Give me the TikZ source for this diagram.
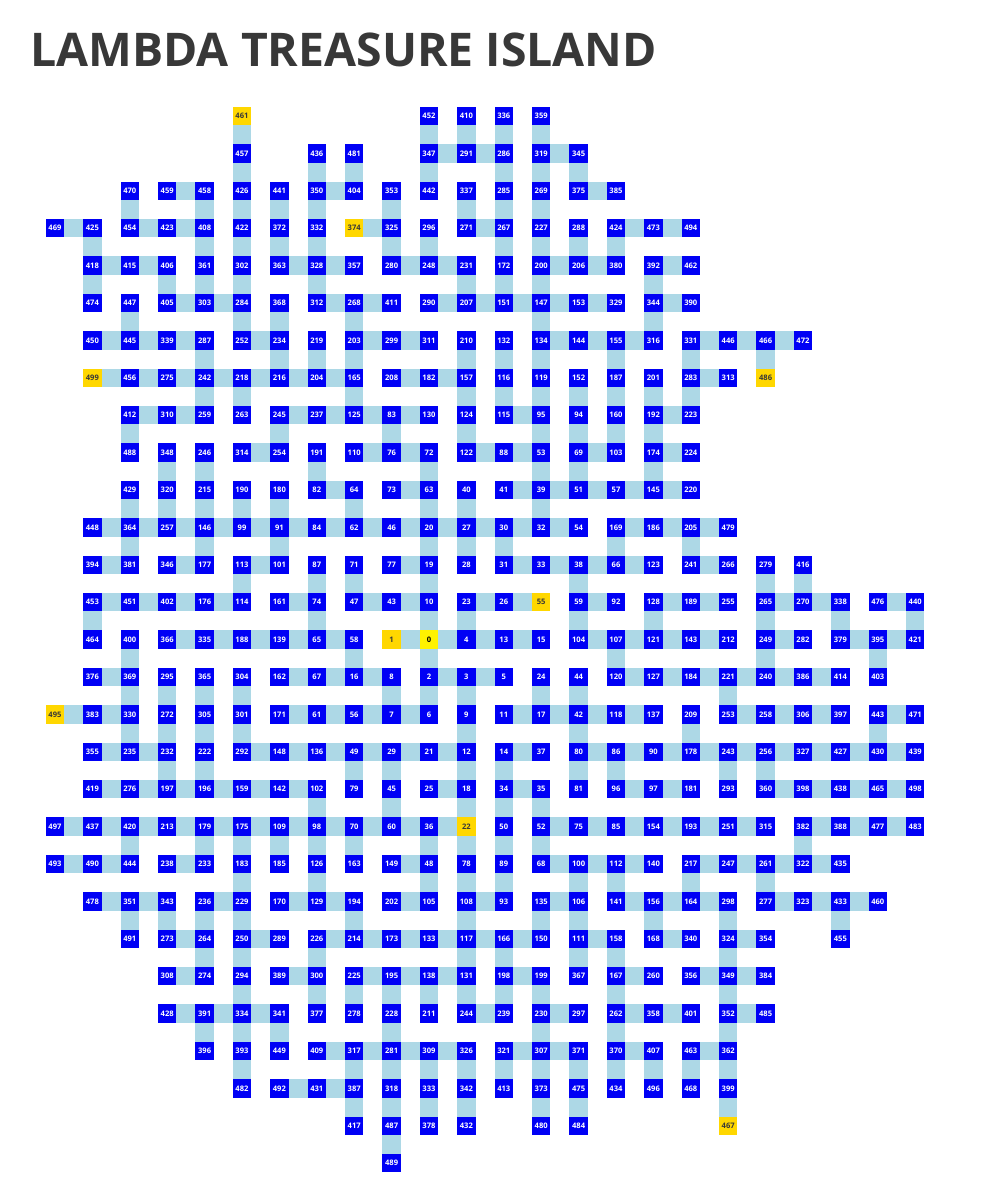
\documentclass[tikz,border=0pt]{standalone}
\usepackage{fontspec}
\setmainfont{Open Sans}
\definecolor{roomblue}{RGB}{0,0,245}
\definecolor{pathblue}{RGB}{173,216,230}
\definecolor{shrinegold}{RGB}{255,215,0}
\definecolor{titlegray}{RGB}{56,56,56}
\tikzset{
  room/.style={rectangle, minimum size=9.2pt, inner sep=0pt, outer sep=0pt,
    fill=roomblue, text=white, font=\fontsize{3.8}{4}\selectfont\bfseries},
  shrine/.style={room, fill=shrinegold, text=titlegray},
  origin/.style={room, fill=yellow, text=black},
  passage/.style={pathblue, line width=9.2pt}
}
\begin{document}
\begin{tikzpicture}[x=18.7pt, y=18.7pt]
    \useasboundingbox (-1.4706,3.1016) rectangle (25.267,-28.877);

    \node[anchor=west, inner sep=0pt, text=titlegray, font=\fontsize{23.2}{24}\selectfont\bfseries]
        (title) at (-0.668,1.76) {LAMBDA TREASURE ISLAND};

    \foreach \r/\rooms in {
        0/{10/452,11/410,12/336,13/359},
        1/{5/457,7/436,8/481,10/347,11/291,12/286,13/319,14/345},
        2/{2/470,3/459,4/458,5/426,6/441,7/350,8/404,9/353,10/442,11/337,12/285,13/269,14/375,15/385},
        3/{0/469,1/425,2/454,3/423,4/408,5/422,6/372,7/332,9/325,10/296,11/271,12/267,13/227,14/288,15/424,16/473,17/494},
        4/{1/418,2/415,3/406,4/361,5/302,6/363,7/328,8/357,9/280,10/248,11/231,12/172,13/200,14/206,15/380,16/392,17/462},
        5/{1/474,2/447,3/405,4/303,5/284,6/368,7/312,8/268,9/411,10/290,11/207,12/151,13/147,14/153,15/329,16/344,17/390},
        6/{1/450,2/445,3/339,4/287,5/252,6/234,7/219,8/203,9/299,10/311,11/210,12/132,13/134,14/144,15/155,16/316,17/331,18/446,19/466,20/472},
        7/{2/456,3/275,4/242,5/218,6/216,7/204,8/165,9/208,10/182,11/157,12/116,13/119,14/152,15/187,16/201,17/283,18/313},
        8/{2/412,3/310,4/259,5/263,6/245,7/237,8/125,9/83,10/130,11/124,12/115,13/95,14/94,15/160,16/192,17/223},
        9/{2/488,3/348,4/246,5/314,6/254,7/191,8/110,9/76,10/72,11/122,12/88,13/53,14/69,15/103,16/174,17/224},
        10/{2/429,3/320,4/215,5/190,6/180,7/82,8/64,9/73,10/63,11/40,12/41,13/39,14/51,15/57,16/145,17/220},
        11/{1/448,2/364,3/257,4/146,5/99,6/91,7/84,8/62,9/46,10/20,11/27,12/30,13/32,14/54,15/169,16/186,17/205,18/479},
        12/{1/394,2/381,3/346,4/177,5/113,6/101,7/87,8/71,9/77,10/19,11/28,12/31,13/33,14/38,15/66,16/123,17/241,18/266,19/279,20/416},
        13/{1/453,2/451,3/402,4/176,5/114,6/161,7/74,8/47,9/43,10/10,11/23,12/26,14/59,15/92,16/128,17/189,18/255,19/265,20/270,21/338,22/476,23/440},
        14/{1/464,2/400,3/366,4/335,5/188,6/139,7/65,8/58,11/4,12/13,13/15,14/104,15/107,16/121,17/143,18/212,19/249,20/282,21/379,22/395,23/421},
        15/{1/376,2/369,3/295,4/365,5/304,6/162,7/67,8/16,9/8,10/2,11/3,12/5,13/24,14/44,15/120,16/127,17/184,18/221,19/240,20/386,21/414,22/403},
        16/{1/383,2/330,3/272,4/305,5/301,6/171,7/61,8/56,9/7,10/6,11/9,12/11,13/17,14/42,15/118,16/137,17/209,18/253,19/258,20/306,21/397,22/443,23/471},
        17/{1/355,2/235,3/232,4/222,5/292,6/148,7/136,8/49,9/29,10/21,11/12,12/14,13/37,14/80,15/86,16/90,17/178,18/243,19/256,20/327,21/427,22/430,23/439},
        18/{1/419,2/276,3/197,4/196,5/159,6/142,7/102,8/79,9/45,10/25,11/18,12/34,13/35,14/81,15/96,16/97,17/181,18/293,19/360,20/398,21/438,22/465,23/498},
        19/{0/497,1/437,2/420,3/213,4/179,5/175,6/109,7/98,8/70,9/60,10/36,12/50,13/52,14/75,15/85,16/154,17/193,18/251,19/315,20/382,21/388,22/477,23/483},
        20/{0/493,1/490,2/444,3/238,4/233,5/183,6/185,7/126,8/163,9/149,10/48,11/78,12/89,13/68,14/100,15/112,16/140,17/217,18/247,19/261,20/322,21/435},
        21/{1/478,2/351,3/343,4/236,5/229,6/170,7/129,8/194,9/202,10/105,11/108,12/93,13/135,14/106,15/141,16/156,17/164,18/298,19/277,20/323,21/433,22/460},
        22/{2/491,3/273,4/264,5/250,6/289,7/226,8/214,9/173,10/133,11/117,12/166,13/150,14/111,15/158,16/168,17/340,18/324,19/354,21/455},
        23/{3/308,4/274,5/294,6/389,7/300,8/225,9/195,10/138,11/131,12/198,13/199,14/367,15/167,16/260,17/356,18/349,19/384},
        24/{3/428,4/391,5/334,6/341,7/377,8/278,9/228,10/211,11/244,12/239,13/230,14/297,15/262,16/358,17/401,18/352,19/485},
        25/{4/396,5/393,6/449,7/409,8/317,9/281,10/309,11/326,12/321,13/307,14/371,15/370,16/407,17/463,18/362},
        26/{5/482,6/492,7/431,8/387,9/318,10/333,11/342,12/413,13/373,14/475,15/434,16/496,17/468,18/399},
        27/{8/417,9/487,10/378,11/432,13/480,14/484},
        28/{9/489}}
        \foreach \c/\n in \rooms
            \node[room] (r\n) at (\c,-\r) {\n};

    \foreach \c/\r/\n in {5/0/461, 8/3/374, 1/7/499, 19/7/486, 13/13/55, 9/14/1,
        0/16/495, 11/19/22, 18/27/467}
        \node[shrine] (r\n) at (\c,-\r) {\n};
    \node[origin] (r0) at (10,-14) {0};

    \foreach \a/\b in {
        347/291,291/286,319/345, 459/458,350/404,375/385,
        469/425,454/423,423/408,374/325,271/267,424/473,473/494,
        418/415,415/406,363/328,328/357,280/248,248/231,200/206,206/380,392/462,
        405/303,303/284,312/268,268/411,290/207,207/151,151/147,147/153,153/329,344/390,
        450/445,445/339,339/287,252/234,203/299,299/311,134/144,144/155,155/316,331/446,446/466,466/472,
        499/456,456/275,275/242,242/218,218/216,216/204,204/165,208/182,182/157,283/313,
        412/310,310/259,245/237,237/125,125/83,83/130,115/95,192/223,
        314/254,110/76,76/72,122/88,88/53,69/103,174/224,
        82/64,73/63,41/39,39/51,51/57,57/145,145/220,
        448/364,364/257,257/146,146/99,99/91,91/84,84/62,62/46,46/20,20/27,27/30,30/32,32/54,169/186,186/205,205/479,
        394/381,346/177,113/101,77/19,31/33,33/38,38/66,66/123,241/266,
        453/451,451/402,402/176,176/114,161/74,47/43,43/10,23/26,26/55,59/92,128/189,189/255,265/270,270/338,476/440,
        366/335,335/188,188/139,139/65,65/58,1/0,0/4,4/13,13/15,104/107,107/121,121/143,143/212,249/282,379/395,395/421,
        376/369,162/67,67/16,16/8,2/3,3/5,120/127,127/184,184/221,221/240,240/386,386/414,
        495/383,383/330,171/61,61/56,56/7,7/6,11/17,17/42,42/118,118/137,253/258,258/306,306/397,443/471,
        355/235,235/232,292/148,148/136,136/49,49/29,29/21,21/12,14/37,80/86,86/90,90/178,178/243,243/256,256/327,327/427,427/430,430/439,
        419/276,276/197,197/196,196/159,159/142,142/102,25/18,34/35,96/97,97/181,360/398,398/438,438/465,465/498,
        497/437,437/420,420/213,213/179,179/175,175/109,109/98,98/70,70/60,60/36,36/22,52/75,75/85,85/154,154/193,193/251,251/315,382/388,388/477,477/483,
        493/490,490/444,238/233,149/48,68/100,100/112,112/140,217/247,247/261,261/322,322/435,
        478/351,351/343,236/229,170/129,129/194,202/105,108/93,135/106,141/156,156/164,164/298,277/323,323/433,433/460,
        273/264,250/289,226/214,214/173,173/133,133/117,117/166,166/150,111/158,168/340,324/354,
        308/274,389/300,225/195,195/138,138/131,198/199,167/260,356/349,349/384,
        428/391,391/334,334/341,244/239,230/297,262/358,358/401,352/485,
        409/317,317/281,281/309,309/326,321/307,307/371,370/407,463/362,
        492/431,431/387}
        \draw[passage] (r\a) -- (r\b);

    \foreach \a/\b in {
        461/457,452/347,410/291,336/286,359/319,
        457/426,436/350,481/404,347/442,286/285,319/269,345/375,
        470/454,458/408,426/422,441/372,350/332,353/325,337/271,285/267,269/227,
        425/418,408/361,422/302,372/363,332/328,325/280,296/248,267/172,227/200,288/206,424/380,
        418/474,406/405,361/303,302/284,328/312,231/207,172/151,200/147,392/344,
        447/445,284/252,368/234,268/203,147/134,344/316,
        287/242,234/216,219/204,203/165,210/157,132/116,134/119,155/187,331/283,466/486,
        242/259,218/263,165/125,157/124,116/115,119/95,152/94,187/160,201/192,283/223,
        412/488,245/254,83/76,124/122,95/53,94/69,160/103,192/174,
        348/320,246/215,191/82,72/63,53/39,69/51,174/145,
        429/364,320/257,215/146,190/99,180/91,64/62,63/20,40/27,39/32,
        364/381,146/177,91/101,20/19,27/28,30/31,169/66,205/241,
        113/114,87/74,71/47,19/10,38/59,279/265,416/270,
        453/464,74/65,10/0,23/4,59/104,128/121,265/249,338/379,440/421,
        400/369,58/16,0/2,107/120,249/240,395/403,
        369/330,295/272,365/305,304/301,8/7,2/6,3/9,24/17,44/42,221/253,
        330/235,272/232,305/222,301/292,9/12,42/80,209/178,443/430,
        232/197,222/196,49/79,29/45,12/18,14/34,80/81,86/96,243/293,256/360,
        102/98,45/60,18/22,34/50,35/52,
        420/444,179/233,175/183,109/185,98/126,70/163,36/48,22/78,50/89,52/68,382/322,
        183/229,126/129,48/105,78/108,89/93,100/106,112/141,217/164,261/277,
        351/491,343/273,236/264,229/250,194/214,108/117,135/150,106/111,156/168,298/324,433/455,
        264/274,250/294,226/300,117/131,166/198,111/367,158/167,324/349,
        294/334,300/377,225/278,195/228,138/211,131/244,198/239,199/230,167/262,349/352,
        391/396,334/393,341/449,228/281,230/307,262/370,352/362,
        393/482,317/387,281/318,309/333,326/342,321/413,307/373,371/475,370/434,407/496,463/468,362/399,
        387/417,318/487,333/378,342/432,373/480,475/484,399/467,
        487/489}
        \draw[passage] (r\a) -- (r\b);
\end{tikzpicture}
\end{document}
